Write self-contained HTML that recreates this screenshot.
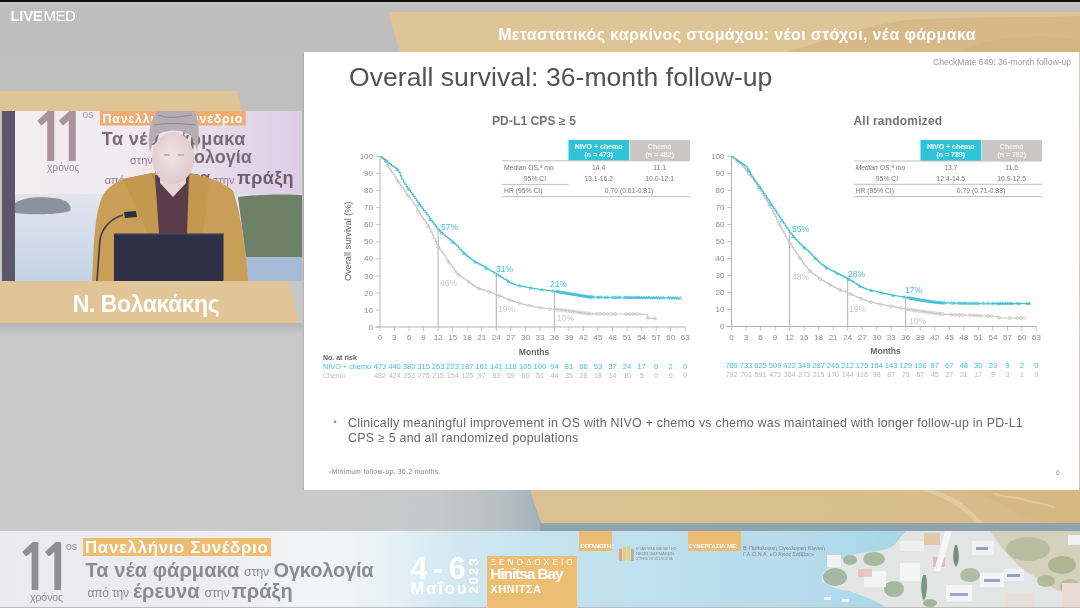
<!DOCTYPE html>
<html lang="el"><head><meta charset="utf-8">
<title>LIVEMED</title>
<style>
*{margin:0;padding:0;box-sizing:border-box}
html,body{width:1080px;height:608px;overflow:hidden;font-family:"Liberation Sans",sans-serif}
body{background:linear-gradient(#bebebe 0,#bfbfbf 100px,#c9c9c9 330px,#c9c9c9 608px)}
.a{position:absolute}
svg text{font-family:"Liberation Sans",sans-serif}
.tk{font-size:8px;fill:#8a8a8a}
.mo{font-size:8.6px;fill:#666;font-weight:bold}
.pl{font-size:8.5px}
.rc{font-size:7.6px;fill:#3fbfd2}
.rg{font-size:7px;fill:#b8b8b8}
.th{font-size:6.8px;fill:#777}
.bt{color:#8c8c8e;font-weight:bold;line-height:24px;white-space:nowrap}
.bs{color:#8c8c8e;font-size:12.5px;line-height:13px;white-space:nowrap;letter-spacing:-0.2px}
</style></head><body>
<!-- top black bar -->
<div class="a" style="left:0;top:0;width:1080px;height:2px;background:#111"></div>
<div class="a" style="left:0;top:2px;width:1080px;height:2px;background:#c6c6c6"></div>
<!-- LIVEMED logo -->
<div class="a" style="left:10.5px;top:7px;color:#fff;font-size:15px;line-height:17px;letter-spacing:-0.35px;white-space:nowrap"><b>LIVE</b><span style="font-weight:normal;letter-spacing:-0.5px;margin-left:1px">MED</span></div>

<!-- header tan band -->
<div class="a" style="left:378px;top:12px;width:702px;height:40px;background:#dfc496;clip-path:polygon(10px 0,702px 0,702px 40px,22px 40px)"></div>
<svg class="a" style="left:0;top:0" width="1080" height="608">
  <path d="M785,52 C810,46 835,36 860,30 C880,24 900,20 925,19 C960,18 1000,17 1040,17 L1080,16 L1080,52Z" fill="#d3b682" opacity="0.75"/>
  <path d="M960,52 C975,44 990,40 1010,38 L1040,36 L1080,40 L1080,52Z" fill="#cfb17c" opacity="0.5"/>
</svg>
<div class="a" style="left:397px;top:24.5px;width:680px;text-align:center;color:#fff;font-weight:bold;font-size:16px;line-height:20px;letter-spacing:0.35px">Μεταστατικός καρκίνος στομάχου: νέοι στόχοι, νέα φάρμακα</div>

<!-- left tan band above video -->
<div class="a" style="left:0;top:91px;width:242px;height:20px;background:#dfc496;clip-path:polygon(0 0,237px 0,242px 20px,0 20px)"></div>

<!-- video panel -->
<svg class="a" style="left:2px;top:111px" width="300" height="170" viewBox="0 0 300 170">
  <defs>
    <linearGradient id="vbg" x1="0" y1="0" x2="1" y2="0">
      <stop offset="0" stop-color="#f3eef0"/><stop offset="0.45" stop-color="#f1e9ef"/><stop offset="0.75" stop-color="#e6d9ea"/><stop offset="1" stop-color="#dccde6"/>
    </linearGradient>
    <linearGradient id="sea" x1="0" y1="0" x2="0" y2="1">
      <stop offset="0" stop-color="#e2e4ec"/><stop offset="0.5" stop-color="#d3dcea"/><stop offset="1" stop-color="#c3d3e6"/>
    </linearGradient>
    <radialGradient id="face" cx="0.45" cy="0.45" r="0.6">
      <stop offset="0" stop-color="#f0e4e2"/><stop offset="1" stop-color="#dcc8cc"/>
    </radialGradient>
  </defs>
  <rect width="300" height="170" fill="url(#vbg)"/>
  <rect y="83" width="300" height="87" fill="url(#sea)"/>
  <!-- islands -->
  <path d="M13,92 C22,86 40,85 58,88 C66,90 70,95 68,100 C55,104 30,104 13,102Z" fill="#8a929c"/>
  <path d="M96,101 L104,99 L108,102 L96,104Z" fill="#8e8a90"/>
  <path d="M236,86 C250,84 270,83 300,84 L300,146 C285,150 262,150 244,146Z" fill="#6f8068"/>
  <path d="M240,146 L300,146 L300,170 L240,170Z" fill="#a6bcd6"/>
  <!-- dark left strip -->
  <rect x="0" y="0" width="13" height="170" fill="#5b5669"/>
  <!-- banner text in video -->
  <text x="27.2" y="49.9" font-size="66" font-weight="bold" fill="#a8939b" letter-spacing="-18.4" style="font-family:'NanumGothic',sans-serif">11</text>
  <text x="80.5" y="6.5" font-size="10.5" fill="#ac9ea8">os</text>
  <text x="45" y="60" font-size="10.2" fill="#9a8a98">χρόνος</text>
  <rect x="97.9" y="0" width="145.8" height="14.5" fill="#f0ad72"/>
  <text x="100.5" y="11.8" font-size="12.3" font-weight="bold" fill="#fff" letter-spacing="0.85">Πανελλήνιο Συνέδριο</text>
  <text x="99.8" y="33.6" font-size="18" font-weight="bold" fill="#7a6a76" letter-spacing="0.45">Τα νέα φάρμακα</text>
  <text x="128" y="53.4" font-size="11" fill="#8f7f8e">στην</text>
  <text x="158.6" y="52.4" font-size="18" font-weight="bold" fill="#7a6a76">Ογκολογία</text>
  <text x="102.7" y="72.8" font-size="11" fill="#8f7f8e">από την</text>
  <text x="149" y="72.8" font-size="18" font-weight="bold" fill="#7a6a76">έρευνα</text>
  <text x="209.7" y="72.8" font-size="11" fill="#8f7f8e">στην</text>
  <text x="235" y="72.8" font-size="18" font-weight="bold" fill="#6e5e6c" letter-spacing="0.4">πράξη</text>
  <!-- speaker -->
  <path d="M90,170 L91,150 C92,120 95,96 101,84 C106,76 114,71 121,68 L150,62 L188,62 L207,67 C218,71 226,75 231,80 C238,100 243,130 246,170Z" fill="#c99f57"/>
  <path d="M121,68 L150,62 L158,100 L164,124 L146,124 C138,104 128,84 121,68Z" fill="#c3984f"/>
  <path d="M207,67 L188,62 L182,100 L178,124 L200,124 C204,104 206,84 207,67Z" fill="#c3984f"/>
  <path d="M150,62 L153,70 L160,110 M188,62 L186,70 L180,110" fill="none" stroke="#b08440" stroke-width="1.2"/>
  <path d="M153,64 L187,64 L185,123 L157,123Z" fill="#5a3c4b"/>
  <path d="M158,56 L184,56 L184,72 L171,86 L158,72Z" fill="#e6d5d4"/>
  <ellipse cx="171" cy="47" rx="21" ry="26" fill="url(#face)"/>
  <path d="M162,44 L168,44 M176,44 L182,44" stroke="#b8a0a4" stroke-width="1.5"/>
  <path d="M148,42 C145,20 150,4 156,0 L192,0 C197,6 198,22 195,40 C193,30 190,24 184,22 C176,18 162,19 156,24 C152,28 150,34 148,42Z" fill="#b5adb2"/>
  <path d="M156,4 C166,8 178,6 190,4 M152,14 C164,12 178,12 194,14" fill="none" stroke="#8f878d" stroke-width="1"/>
  <!-- laptop -->
  <rect x="112" y="122.8" width="109.5" height="47.2" fill="#2d3046"/>
  <rect x="112" y="122.5" width="110" height="1" fill="#4a4e66"/>
  <!-- mic -->
  <path d="M95,170 L98,128 C101,116 108,108 121,104" fill="none" stroke="#3a3d4c" stroke-width="1.6"/>
  <path d="M122,101 L134,100 L135,106 L123,107Z" fill="#2c2f3c"/>
</svg>

<!-- name band -->
<div class="a" style="left:0;top:281px;width:300px;height:42px;background:#e2c596;clip-path:polygon(0 0,289px 0,299px 42px,0 42px)"></div>
<div class="a" style="left:0;top:323px;width:302px;height:12px;background:linear-gradient(#b4b4b4,#c9c9c9)"></div>
<div class="a" style="left:0;top:290.6px;width:292px;text-align:center;color:#fff;font-weight:bold;font-size:23px;line-height:26px;letter-spacing:-0.45px">Ν. Βολακάκης</div>

<!-- lower tan band -->
<div class="a" style="left:304px;top:490px;width:240px;height:41px;background:linear-gradient(90deg,#c9c9c9 0,#c7c8c9 55%,#b4bec3 85%,#9fb0b8 100%)"></div>
<div class="a" style="left:540px;top:490px;width:540px;height:41px;background:linear-gradient(#9fb0b8,#8ea2ad)"></div>
<div class="a" style="left:530px;top:490px;width:550px;height:33px;background:linear-gradient(90deg,#dac191 0,#d9bf8d 60%,#d6b985 100%);clip-path:polygon(0 0,550px 0,550px 33px,11px 33px)"></div>
<svg class="a" style="left:900px;top:490px" width="180" height="33" viewBox="0 0 180 33">
  <path d="M20,0 C40,6 60,14 75,33 L82,33 C68,14 50,5 34,0Z" fill="#e4d2aa" opacity="0.7"/>
  <path d="M60,0 C80,4 100,10 112,20 C120,26 130,30 140,33 L180,33 L180,0Z" fill="#d2b47c" opacity="0.35"/>
  <path d="M95,4 C105,8 115,6 125,10 C135,14 145,12 155,18" fill="none" stroke="#e6d6b2" stroke-width="2" opacity="0.6"/>
</svg>

<!-- slide -->
<div class="a" style="left:301.5px;top:53px;width:2.5px;height:437px;background:linear-gradient(90deg,rgba(0,0,0,0.02),rgba(0,0,0,0.12))"></div>
<div class="a" style="left:304px;top:52px;width:774.5px;height:438px;background:#fff"></div>
<div class="a" style="left:1078.5px;top:52px;width:1.5px;height:438px;background:linear-gradient(#d9ccb2,#cfc7b8)"></div>

<div class="a" style="left:349px;top:61px;color:#525252;font-size:26.5px;line-height:32px;letter-spacing:0.06px">Overall survival: 36-month follow-up</div>
<div class="a" style="left:933px;top:56.5px;color:#9a9a9a;font-size:8.6px;line-height:10px">CheckMate 649: 36-month follow-up</div>

<div class="a" style="left:492px;top:113.7px;color:#737373;font-size:12px;line-height:14px;font-weight:bold;letter-spacing:0.1px">PD-L1 CPS ≥ 5</div>
<div class="a" style="left:853.5px;top:113.7px;color:#737373;font-size:12px;line-height:14px;font-weight:bold;letter-spacing:0.2px">All randomized</div>

<svg class="a" style="left:0;top:0" width="1080" height="608">
  <!-- left table -->
  <rect x="568.5" y="140" width="60.5" height="20.5" fill="#2ec3d7"/>
  <rect x="629.5" y="140" width="60.5" height="20.5" fill="#cac7c7"/>
  <text x="598.7" y="148.5" text-anchor="middle" font-size="7" font-weight="bold" fill="#fff">NIVO + chemo</text>
  <text x="598.7" y="157" text-anchor="middle" font-size="7" font-weight="bold" fill="#fff">(n = 473)</text>
  <text x="659.7" y="148.5" text-anchor="middle" font-size="7" font-weight="bold" fill="#f4f4f4">Chemo</text>
  <text x="659.7" y="157" text-anchor="middle" font-size="7" font-weight="bold" fill="#f4f4f4">(n = 482)</text>
  <line x1="502" y1="160.8" x2="690" y2="160.8" stroke="#b0b0b0" stroke-width="0.8"/>
  <line x1="502" y1="184.4" x2="568.5" y2="184.4" stroke="#b0b0b0" stroke-width="0.8"/>
  <line x1="502" y1="196.6" x2="690" y2="196.6" stroke="#b0b0b0" stroke-width="0.8"/>
  <text x="504" y="169.5" class="th">Median OS,<tspan font-size="4.5" dy="-2">a</tspan><tspan dy="2"> mo</tspan></text>
  <text x="535" y="180.5" text-anchor="middle" class="th">95% CI</text>
  <text x="504" y="193" class="th">HR (95% CI)</text>
  <text x="598.7" y="169.5" text-anchor="middle" class="th">14.4</text>
  <text x="659.7" y="169.5" text-anchor="middle" class="th">11.1</text>
  <text x="598.7" y="180.5" text-anchor="middle" class="th">13.1-16.2</text>
  <text x="659.7" y="180.5" text-anchor="middle" class="th">10.0-12.1</text>
  <text x="629" y="193" text-anchor="middle" class="th">0.70 (0.61-0.81)</text>

  <!-- right table -->
  <rect x="920.5" y="140" width="60.7" height="20.8" fill="#2ec3d7"/>
  <rect x="981.5" y="140" width="60.5" height="20.8" fill="#cac7c7"/>
  <text x="950.8" y="148.5" text-anchor="middle" font-size="7" font-weight="bold" fill="#fff">NIVO + chemo</text>
  <text x="950.8" y="157" text-anchor="middle" font-size="7" font-weight="bold" fill="#fff">(n = 789)</text>
  <text x="1011.7" y="148.5" text-anchor="middle" font-size="7" font-weight="bold" fill="#f4f4f4">Chemo</text>
  <text x="1011.7" y="157" text-anchor="middle" font-size="7" font-weight="bold" fill="#f4f4f4">(n = 792)</text>
  <line x1="854" y1="161" x2="1042" y2="161" stroke="#b0b0b0" stroke-width="0.8"/>
  <line x1="854" y1="184.3" x2="1042" y2="184.3" stroke="#b0b0b0" stroke-width="0.8"/>
  <line x1="854" y1="196.5" x2="1042" y2="196.5" stroke="#b0b0b0" stroke-width="0.8"/>
  <text x="855.5" y="169.5" class="th" font-style="italic">Median OS,<tspan font-size="4.5" dy="-2">a</tspan><tspan dy="2"> mo</tspan></text>
  <text x="887" y="180.5" text-anchor="middle" class="th">95% CI</text>
  <text x="855.5" y="193" class="th">HR (95% CI)</text>
  <text x="950.8" y="169.5" text-anchor="middle" class="th">13.7</text>
  <text x="1011.7" y="169.5" text-anchor="middle" class="th">11.6</text>
  <text x="950.8" y="180.5" text-anchor="middle" class="th">12.4-14.5</text>
  <text x="1011.7" y="180.5" text-anchor="middle" class="th">10.9-12.5</text>
  <text x="981" y="193" text-anchor="middle" class="th">0.79 (0.71-0.88)</text>

  <!-- y label -->
  <text transform="translate(350.5,241.3) rotate(-90)" text-anchor="middle" font-size="9.2" fill="#666">Overall survival (%)</text>
  <!-- at risk labels -->
  <text x="323" y="359.5" font-size="7" fill="#666" font-weight="bold">No. at risk</text>
  <text x="323" y="369" font-size="7.3" fill="#3fbfd2">NIVO + chemo</text>
  <text x="323" y="378.3" font-size="7" fill="#c0c0c0">Chemo</text>
<line x1="380.0" y1="156.0" x2="380.0" y2="327.0" stroke="#b4b4b4" stroke-width="1"/>
<line x1="375.0" y1="327.0" x2="685.2" y2="327.0" stroke="#b4b4b4" stroke-width="1"/>
<line x1="376.0" y1="327.0" x2="380.0" y2="327.0" stroke="#b4b4b4" stroke-width="0.8"/>
<text x="373.0" y="329.6" text-anchor="end" class="tk">0</text>
<line x1="376.0" y1="309.9" x2="380.0" y2="309.9" stroke="#b4b4b4" stroke-width="0.8"/>
<text x="373.0" y="312.6" text-anchor="end" class="tk">10</text>
<line x1="376.0" y1="292.9" x2="380.0" y2="292.9" stroke="#b4b4b4" stroke-width="0.8"/>
<text x="373.0" y="295.5" text-anchor="end" class="tk">20</text>
<line x1="376.0" y1="275.9" x2="380.0" y2="275.9" stroke="#b4b4b4" stroke-width="0.8"/>
<text x="373.0" y="278.5" text-anchor="end" class="tk">30</text>
<line x1="376.0" y1="258.8" x2="380.0" y2="258.8" stroke="#b4b4b4" stroke-width="0.8"/>
<text x="373.0" y="261.4" text-anchor="end" class="tk">40</text>
<line x1="376.0" y1="241.8" x2="380.0" y2="241.8" stroke="#b4b4b4" stroke-width="0.8"/>
<text x="373.0" y="244.3" text-anchor="end" class="tk">50</text>
<line x1="376.0" y1="224.7" x2="380.0" y2="224.7" stroke="#b4b4b4" stroke-width="0.8"/>
<text x="373.0" y="227.3" text-anchor="end" class="tk">60</text>
<line x1="376.0" y1="207.6" x2="380.0" y2="207.6" stroke="#b4b4b4" stroke-width="0.8"/>
<text x="373.0" y="210.2" text-anchor="end" class="tk">70</text>
<line x1="376.0" y1="190.6" x2="380.0" y2="190.6" stroke="#b4b4b4" stroke-width="0.8"/>
<text x="373.0" y="193.2" text-anchor="end" class="tk">80</text>
<line x1="376.0" y1="173.5" x2="380.0" y2="173.5" stroke="#b4b4b4" stroke-width="0.8"/>
<text x="373.0" y="176.1" text-anchor="end" class="tk">90</text>
<line x1="376.0" y1="156.5" x2="380.0" y2="156.5" stroke="#b4b4b4" stroke-width="0.8"/>
<text x="373.0" y="159.1" text-anchor="end" class="tk">100</text>
<line x1="380.0" y1="327.0" x2="380.0" y2="331.0" stroke="#b4b4b4" stroke-width="0.8"/>
<text x="380.0" y="340.4" text-anchor="middle" class="tk">0</text>
<line x1="394.5" y1="327.0" x2="394.5" y2="331.0" stroke="#b4b4b4" stroke-width="0.8"/>
<text x="394.5" y="340.4" text-anchor="middle" class="tk">3</text>
<line x1="409.1" y1="327.0" x2="409.1" y2="331.0" stroke="#b4b4b4" stroke-width="0.8"/>
<text x="409.1" y="340.4" text-anchor="middle" class="tk">6</text>
<line x1="423.6" y1="327.0" x2="423.6" y2="331.0" stroke="#b4b4b4" stroke-width="0.8"/>
<text x="423.6" y="340.4" text-anchor="middle" class="tk">9</text>
<line x1="438.1" y1="327.0" x2="438.1" y2="331.0" stroke="#b4b4b4" stroke-width="0.8"/>
<text x="438.1" y="340.4" text-anchor="middle" class="tk">12</text>
<line x1="452.7" y1="327.0" x2="452.7" y2="331.0" stroke="#b4b4b4" stroke-width="0.8"/>
<text x="452.7" y="340.4" text-anchor="middle" class="tk">15</text>
<line x1="467.2" y1="327.0" x2="467.2" y2="331.0" stroke="#b4b4b4" stroke-width="0.8"/>
<text x="467.2" y="340.4" text-anchor="middle" class="tk">18</text>
<line x1="481.7" y1="327.0" x2="481.7" y2="331.0" stroke="#b4b4b4" stroke-width="0.8"/>
<text x="481.7" y="340.4" text-anchor="middle" class="tk">21</text>
<line x1="496.3" y1="327.0" x2="496.3" y2="331.0" stroke="#b4b4b4" stroke-width="0.8"/>
<text x="496.3" y="340.4" text-anchor="middle" class="tk">24</text>
<line x1="510.8" y1="327.0" x2="510.8" y2="331.0" stroke="#b4b4b4" stroke-width="0.8"/>
<text x="510.8" y="340.4" text-anchor="middle" class="tk">27</text>
<line x1="525.4" y1="327.0" x2="525.4" y2="331.0" stroke="#b4b4b4" stroke-width="0.8"/>
<text x="525.4" y="340.4" text-anchor="middle" class="tk">30</text>
<line x1="539.9" y1="327.0" x2="539.9" y2="331.0" stroke="#b4b4b4" stroke-width="0.8"/>
<text x="539.9" y="340.4" text-anchor="middle" class="tk">33</text>
<line x1="554.4" y1="327.0" x2="554.4" y2="331.0" stroke="#b4b4b4" stroke-width="0.8"/>
<text x="554.4" y="340.4" text-anchor="middle" class="tk">36</text>
<line x1="569.0" y1="327.0" x2="569.0" y2="331.0" stroke="#b4b4b4" stroke-width="0.8"/>
<text x="569.0" y="340.4" text-anchor="middle" class="tk">39</text>
<line x1="583.5" y1="327.0" x2="583.5" y2="331.0" stroke="#b4b4b4" stroke-width="0.8"/>
<text x="583.5" y="340.4" text-anchor="middle" class="tk">42</text>
<line x1="598.0" y1="327.0" x2="598.0" y2="331.0" stroke="#b4b4b4" stroke-width="0.8"/>
<text x="598.0" y="340.4" text-anchor="middle" class="tk">45</text>
<line x1="612.6" y1="327.0" x2="612.6" y2="331.0" stroke="#b4b4b4" stroke-width="0.8"/>
<text x="612.6" y="340.4" text-anchor="middle" class="tk">48</text>
<line x1="627.1" y1="327.0" x2="627.1" y2="331.0" stroke="#b4b4b4" stroke-width="0.8"/>
<text x="627.1" y="340.4" text-anchor="middle" class="tk">51</text>
<line x1="641.6" y1="327.0" x2="641.6" y2="331.0" stroke="#b4b4b4" stroke-width="0.8"/>
<text x="641.6" y="340.4" text-anchor="middle" class="tk">54</text>
<line x1="656.2" y1="327.0" x2="656.2" y2="331.0" stroke="#b4b4b4" stroke-width="0.8"/>
<text x="656.2" y="340.4" text-anchor="middle" class="tk">57</text>
<line x1="670.7" y1="327.0" x2="670.7" y2="331.0" stroke="#b4b4b4" stroke-width="0.8"/>
<text x="670.7" y="340.4" text-anchor="middle" class="tk">60</text>
<line x1="685.2" y1="327.0" x2="685.2" y2="331.0" stroke="#b4b4b4" stroke-width="0.8"/>
<text x="685.2" y="340.4" text-anchor="middle" class="tk">63</text>
<text x="534.1" y="354.5" text-anchor="middle" class="mo">Months</text>
<line x1="438.1" y1="229.6" x2="438.1" y2="327.0" stroke="#a8a8a8" stroke-width="0.9"/>
<line x1="496.3" y1="274.1" x2="496.3" y2="327.0" stroke="#a8a8a8" stroke-width="0.9"/>
<line x1="554.4" y1="291.2" x2="554.4" y2="327.0" stroke="#a8a8a8" stroke-width="0.9"/>
<path d="M380.0,156.5H381.5V158.0H382.9V159.4H384.4V161.0H385.8V163.0H387.3V165.6H388.7V168.1H390.2V170.4H391.6V172.6H393.1V174.8H394.5V176.9H396.0V179.1H397.4V181.2H398.9V183.4H400.3V185.5H401.8V187.7H403.3V189.8H404.7V191.9H406.2V193.9H407.6V195.8H409.1V197.6H410.5V199.4H412.0V201.2H413.4V203.3H414.9V205.7H416.3V208.3H417.8V211.0H419.2V213.6H420.7V215.9H422.2V217.9H423.6V219.8H425.1V221.7H426.5V223.7H428.0V226.1H429.4V228.9H430.9V232.1H432.3V235.4H433.8V238.5H435.2V241.4H436.7V244.3H438.1V246.9H439.6V249.1H441.0V251.2H442.5V253.3H444.0V255.5H445.4V257.7H446.9V259.9H448.3V262.1H449.8V264.2H451.2V266.3H452.7V268.4H454.1V270.3H455.6V272.1H457.0V273.7H458.5V275.0H459.9V276.1H461.4V277.2H462.8V278.1H464.3V279.0H465.8V280.0H467.2V281.0H468.7V282.0H470.1V283.2H471.6V284.3H473.0V285.4H474.5V286.4H475.9V287.3H477.4V288.0H478.8V288.6H480.3V289.1H481.7V289.6H483.2V290.1H484.7V290.5H486.1V291.0H487.6V291.5H489.0V292.0H490.5V292.5H491.9V293.0H493.4V293.5H494.8V294.1H496.3V294.6H497.7V295.2H499.2V295.8H500.6V296.4H502.1V297.0H503.5V297.7H505.0V298.3H506.5V298.9H507.9V299.5H509.4V300.1H510.8V300.6H512.3V301.1H513.7V301.5H515.2V302.0H516.6V302.5H518.1V302.9H519.5V303.3H521.0V303.7H522.4V304.1H523.9V304.5H525.4V304.8H526.8V305.2H528.3V305.5H529.7V305.8H531.2V306.1H532.6V306.4H534.1V306.7H535.5V307.0H537.0V307.3H538.4V307.5H539.9V307.7H541.3V307.9H542.8V308.1H544.2V308.3H545.7V308.5H547.2V308.7H548.6V308.9H550.1V309.0H551.5V309.2H553.0V309.3H554.4V309.4H555.9V309.5H557.3V309.6H558.8V309.7H560.2V309.9H561.7V310.0H563.1V310.2H564.6V310.4H566.0V310.6H567.5V310.8H569.0V311.0H570.4V311.2H571.9V311.4H573.3V311.6H574.8V311.8H576.2V312.0H577.7V312.2H579.1V312.4H580.6V312.6H582.0V312.8H583.5V313.0H584.9V313.2H586.4V313.4H587.9V313.6H589.3V313.7H590.8V313.8H592.2V313.9H593.7V313.9H595.1V313.9H596.6V313.9H598.0V313.9H599.5V313.9H600.9V313.9H602.4V314.0H603.8V314.0H605.3V314.0H606.7V314.0H608.2V314.0H609.7V314.0H611.1V314.0H612.6V314.0H614.0V314.0H615.5V314.0H616.9V314.0H618.4V314.0H619.8V314.0H621.3V314.0H622.7V314.0H624.2V314.1H625.6V314.1H627.1V314.1H628.5V314.1H630.0V314.1H631.5V314.1H632.9V314.1H634.4V314.1H635.8V314.1H637.3V314.1H638.7V314.1H640.2V314.1H641.6V314.1H643.1V314.2H644.5V314.2H646.0V314.2H647.4V317.8H648.9V318.5H650.4V318.5H651.8V318.5H653.3V318.5H654.7V318.5H656.2V318.5" fill="none" stroke="#c8c8c8" stroke-width="1.1"/>
<circle cx="387.3" cy="165.6" r="1.5" fill="none" stroke="#c8c8c8" stroke-width="0.8"/>
<circle cx="397.4" cy="181.2" r="1.5" fill="none" stroke="#c8c8c8" stroke-width="0.8"/>
<circle cx="407.6" cy="195.8" r="1.5" fill="none" stroke="#c8c8c8" stroke-width="0.8"/>
<circle cx="417.8" cy="211.0" r="1.5" fill="none" stroke="#c8c8c8" stroke-width="0.8"/>
<circle cx="428.0" cy="226.1" r="1.5" fill="none" stroke="#c8c8c8" stroke-width="0.8"/>
<circle cx="438.1" cy="246.9" r="1.5" fill="none" stroke="#c8c8c8" stroke-width="0.8"/>
<circle cx="448.3" cy="262.1" r="1.5" fill="none" stroke="#c8c8c8" stroke-width="0.8"/>
<circle cx="458.5" cy="275.0" r="1.5" fill="none" stroke="#c8c8c8" stroke-width="0.8"/>
<circle cx="468.7" cy="282.0" r="1.5" fill="none" stroke="#c8c8c8" stroke-width="0.8"/>
<circle cx="478.8" cy="288.6" r="1.5" fill="none" stroke="#c8c8c8" stroke-width="0.8"/>
<circle cx="489.0" cy="292.0" r="1.5" fill="none" stroke="#c8c8c8" stroke-width="0.8"/>
<circle cx="499.2" cy="295.8" r="1.5" fill="none" stroke="#c8c8c8" stroke-width="0.8"/>
<circle cx="509.4" cy="300.1" r="1.5" fill="none" stroke="#c8c8c8" stroke-width="0.8"/>
<circle cx="519.5" cy="303.3" r="1.5" fill="none" stroke="#c8c8c8" stroke-width="0.8"/>
<circle cx="529.7" cy="305.8" r="1.5" fill="none" stroke="#c8c8c8" stroke-width="0.8"/>
<circle cx="539.9" cy="307.7" r="1.5" fill="none" stroke="#c8c8c8" stroke-width="0.8"/>
<circle cx="550.1" cy="309.0" r="1.5" fill="none" stroke="#c8c8c8" stroke-width="0.8"/>
<circle cx="556.8" cy="309.6" r="1.5" fill="none" stroke="#c8c8c8" stroke-width="0.8"/>
<circle cx="559.5" cy="309.8" r="1.5" fill="none" stroke="#c8c8c8" stroke-width="0.8"/>
<circle cx="562.2" cy="310.1" r="1.5" fill="none" stroke="#c8c8c8" stroke-width="0.8"/>
<circle cx="564.8" cy="310.4" r="1.5" fill="none" stroke="#c8c8c8" stroke-width="0.8"/>
<circle cx="567.5" cy="310.8" r="1.5" fill="none" stroke="#c8c8c8" stroke-width="0.8"/>
<circle cx="570.2" cy="311.2" r="1.5" fill="none" stroke="#c8c8c8" stroke-width="0.8"/>
<circle cx="572.8" cy="311.5" r="1.5" fill="none" stroke="#c8c8c8" stroke-width="0.8"/>
<circle cx="575.5" cy="311.9" r="1.5" fill="none" stroke="#c8c8c8" stroke-width="0.8"/>
<circle cx="578.2" cy="312.3" r="1.5" fill="none" stroke="#c8c8c8" stroke-width="0.8"/>
<circle cx="580.8" cy="312.6" r="1.5" fill="none" stroke="#c8c8c8" stroke-width="0.8"/>
<circle cx="583.5" cy="313.0" r="1.5" fill="none" stroke="#c8c8c8" stroke-width="0.8"/>
<circle cx="586.2" cy="313.4" r="1.5" fill="none" stroke="#c8c8c8" stroke-width="0.8"/>
<circle cx="588.8" cy="313.6" r="1.5" fill="none" stroke="#c8c8c8" stroke-width="0.8"/>
<circle cx="591.5" cy="313.8" r="1.5" fill="none" stroke="#c8c8c8" stroke-width="0.8"/>
<circle cx="596.8" cy="313.9" r="1.5" fill="none" stroke="#c8c8c8" stroke-width="0.8"/>
<circle cx="600.4" cy="313.9" r="1.5" fill="none" stroke="#c8c8c8" stroke-width="0.8"/>
<circle cx="604.1" cy="314.0" r="1.5" fill="none" stroke="#c8c8c8" stroke-width="0.8"/>
<circle cx="607.7" cy="314.0" r="1.5" fill="none" stroke="#c8c8c8" stroke-width="0.8"/>
<circle cx="611.3" cy="314.0" r="1.5" fill="none" stroke="#c8c8c8" stroke-width="0.8"/>
<circle cx="615.0" cy="314.0" r="1.5" fill="none" stroke="#c8c8c8" stroke-width="0.8"/>
<circle cx="625.9" cy="314.1" r="1.5" fill="none" stroke="#c8c8c8" stroke-width="0.8"/>
<circle cx="629.5" cy="314.1" r="1.5" fill="none" stroke="#c8c8c8" stroke-width="0.8"/>
<circle cx="633.2" cy="314.1" r="1.5" fill="none" stroke="#c8c8c8" stroke-width="0.8"/>
<circle cx="636.8" cy="314.1" r="1.5" fill="none" stroke="#c8c8c8" stroke-width="0.8"/>
<circle cx="647.7" cy="318.3" r="1.5" fill="none" stroke="#c8c8c8" stroke-width="0.8"/>
<circle cx="655.0" cy="318.5" r="1.5" fill="none" stroke="#c8c8c8" stroke-width="0.8"/>
<path d="M380.0,156.5H381.5V157.5H382.9V158.5H384.4V159.5H385.8V160.7H387.3V162.0H388.7V163.4H390.2V164.5H391.6V165.6H393.1V166.5H394.5V167.6H396.0V168.7H397.4V170.1H398.9V172.6H400.3V175.9H401.8V179.3H403.3V182.0H404.7V184.3H406.2V186.5H407.6V188.5H409.1V190.4H410.5V192.3H412.0V194.4H413.4V196.4H414.9V198.5H416.3V200.7H417.8V202.7H419.2V204.8H420.7V206.8H422.2V208.7H423.6V210.5H425.1V212.4H426.5V214.4H428.0V216.3H429.4V218.2H430.9V220.2H432.3V222.1H433.8V224.1H435.2V226.1H436.7V228.0H438.1V229.6H439.6V231.1H441.0V232.5H442.5V233.8H444.0V235.1H445.4V236.3H446.9V237.5H448.3V238.7H449.8V239.9H451.2V241.0H452.7V242.1H454.1V243.4H455.6V244.7H457.0V246.2H458.5V247.9H459.9V249.5H461.4V251.0H462.8V252.4H464.3V253.8H465.8V255.1H467.2V256.4H468.7V257.6H470.1V258.8H471.6V259.8H473.0V260.8H474.5V261.7H475.9V262.6H477.4V263.3H478.8V264.1H480.3V264.8H481.7V265.6H483.2V266.4H484.7V267.3H486.1V268.1H487.6V269.0H489.0V269.8H490.5V270.7H491.9V271.5H493.4V272.4H494.8V273.3H496.3V274.1H497.7V275.0H499.2V275.9H500.6V276.9H502.1V277.8H503.5V278.7H505.0V279.5H506.5V280.4H507.9V281.3H509.4V282.2H510.8V283.1H512.3V283.8H513.7V284.4H515.2V284.8H516.6V285.2H518.1V285.5H519.5V285.8H521.0V286.1H522.4V286.4H523.9V286.7H525.4V286.9H526.8V287.2H528.3V287.5H529.7V287.8H531.2V288.0H532.6V288.3H534.1V288.6H535.5V288.8H537.0V289.1H538.4V289.3H539.9V289.5H541.3V289.7H542.8V289.9H544.2V290.0H545.7V290.2H547.2V290.4H548.6V290.5H550.1V290.7H551.5V290.8H553.0V291.0H554.4V291.2H555.9V291.4H557.3V291.6H558.8V291.8H560.2V292.0H561.7V292.3H563.1V292.5H564.6V292.7H566.0V293.0H567.5V293.2H569.0V293.5H570.4V293.7H571.9V294.0H573.3V294.2H574.8V294.4H576.2V294.7H577.7V294.9H579.1V295.2H580.6V295.4H582.0V295.7H583.5V295.9H584.9V296.2H586.4V296.4H587.9V296.6H589.3V296.7H590.8V296.9H592.2V297.0H593.7V297.0H595.1V297.0H596.6V297.1H598.0V297.1H599.5V297.1H600.9V297.1H602.4V297.2H603.8V297.2H605.3V297.2H606.7V297.2H608.2V297.2H609.7V297.2H611.1V297.2H612.6V297.3H614.0V297.3H615.5V297.3H616.9V297.3H618.4V297.3H619.8V297.3H621.3V297.3H622.7V297.3H624.2V297.3H625.6V297.4H627.1V297.4H628.5V297.4H630.0V297.4H631.5V297.4H632.9V297.4H634.4V297.4H635.8V297.4H637.3V297.4H638.7V297.4H640.2V297.5H641.6V297.5H643.1V297.5H644.5V297.5H646.0V297.5H647.4V297.5H648.9V297.5H650.4V297.5H651.8V297.6H653.3V297.6H654.7V297.6H656.2V297.6H657.6V297.6H659.1V297.7H660.5V297.7H662.0V297.7H663.4V297.7H664.9V297.8H666.3V297.8H667.8V297.8H669.2V297.8H670.7V297.9H672.2V297.9H673.6V297.9H675.1V297.9H676.5V298.0H678.0V298.0H679.4V298.0" fill="none" stroke="#3fbfd2" stroke-width="1.1"/>
<path d="M384.3,161.8L385.8,159.2L387.3,161.8Z" fill="none" stroke="#3fbfd2" stroke-width="0.7"/>
<path d="M395.5,170.7L397.0,168.1L398.5,170.7Z" fill="none" stroke="#3fbfd2" stroke-width="0.7"/>
<path d="M406.6,190.2L408.1,187.6L409.6,190.2Z" fill="none" stroke="#3fbfd2" stroke-width="0.7"/>
<path d="M417.7,205.9L419.2,203.3L420.7,205.9Z" fill="none" stroke="#3fbfd2" stroke-width="0.7"/>
<path d="M428.9,220.6L430.4,218.0L431.9,220.6Z" fill="none" stroke="#3fbfd2" stroke-width="0.7"/>
<path d="M440.0,234.1L441.5,231.5L443.0,234.1Z" fill="none" stroke="#3fbfd2" stroke-width="0.7"/>
<path d="M451.2,243.2L452.7,240.6L454.2,243.2Z" fill="none" stroke="#3fbfd2" stroke-width="0.7"/>
<path d="M462.3,254.4L463.8,251.8L465.3,254.4Z" fill="none" stroke="#3fbfd2" stroke-width="0.7"/>
<path d="M473.5,263.1L475.0,260.5L476.5,263.1Z" fill="none" stroke="#3fbfd2" stroke-width="0.7"/>
<path d="M484.6,269.2L486.1,266.6L487.6,269.2Z" fill="none" stroke="#3fbfd2" stroke-width="0.7"/>
<path d="M495.7,275.8L497.2,273.2L498.7,275.8Z" fill="none" stroke="#3fbfd2" stroke-width="0.7"/>
<path d="M506.9,282.7L508.4,280.1L509.9,282.7Z" fill="none" stroke="#3fbfd2" stroke-width="0.7"/>
<path d="M518.0,286.9L519.5,284.3L521.0,286.9Z" fill="none" stroke="#3fbfd2" stroke-width="0.7"/>
<path d="M529.2,289.1L530.7,286.5L532.2,289.1Z" fill="none" stroke="#3fbfd2" stroke-width="0.7"/>
<path d="M540.3,290.8L541.8,288.2L543.3,290.8Z" fill="none" stroke="#3fbfd2" stroke-width="0.7"/>
<path d="M551.5,292.1L553.0,289.5L554.5,292.1Z" fill="none" stroke="#3fbfd2" stroke-width="0.7"/>
<path d="M555.3,292.6L556.8,290.0L558.3,292.6Z" fill="none" stroke="#3fbfd2" stroke-width="0.7"/>
<path d="M556.8,292.8L558.3,290.2L559.8,292.8Z" fill="none" stroke="#3fbfd2" stroke-width="0.7"/>
<path d="M558.2,293.1L559.7,290.5L561.2,293.1Z" fill="none" stroke="#3fbfd2" stroke-width="0.7"/>
<path d="M559.7,293.3L561.2,290.7L562.7,293.3Z" fill="none" stroke="#3fbfd2" stroke-width="0.7"/>
<path d="M561.2,293.5L562.7,290.9L564.2,293.5Z" fill="none" stroke="#3fbfd2" stroke-width="0.7"/>
<path d="M562.6,293.8L564.1,291.2L565.6,293.8Z" fill="none" stroke="#3fbfd2" stroke-width="0.7"/>
<path d="M564.1,294.0L565.6,291.4L567.1,294.0Z" fill="none" stroke="#3fbfd2" stroke-width="0.7"/>
<path d="M565.5,294.2L567.0,291.6L568.5,294.2Z" fill="none" stroke="#3fbfd2" stroke-width="0.7"/>
<path d="M567.0,294.5L568.5,291.9L570.0,294.5Z" fill="none" stroke="#3fbfd2" stroke-width="0.7"/>
<path d="M568.4,294.7L569.9,292.1L571.4,294.7Z" fill="none" stroke="#3fbfd2" stroke-width="0.7"/>
<path d="M569.9,295.0L571.4,292.4L572.9,295.0Z" fill="none" stroke="#3fbfd2" stroke-width="0.7"/>
<path d="M571.3,295.2L572.8,292.6L574.3,295.2Z" fill="none" stroke="#3fbfd2" stroke-width="0.7"/>
<path d="M572.8,295.4L574.3,292.8L575.8,295.4Z" fill="none" stroke="#3fbfd2" stroke-width="0.7"/>
<path d="M574.2,295.7L575.7,293.1L577.2,295.7Z" fill="none" stroke="#3fbfd2" stroke-width="0.7"/>
<path d="M575.7,295.9L577.2,293.3L578.7,295.9Z" fill="none" stroke="#3fbfd2" stroke-width="0.7"/>
<path d="M577.1,296.2L578.6,293.6L580.1,296.2Z" fill="none" stroke="#3fbfd2" stroke-width="0.7"/>
<path d="M578.6,296.4L580.1,293.8L581.6,296.4Z" fill="none" stroke="#3fbfd2" stroke-width="0.7"/>
<path d="M580.1,296.7L581.6,294.1L583.1,296.7Z" fill="none" stroke="#3fbfd2" stroke-width="0.7"/>
<path d="M581.5,297.0L583.0,294.4L584.5,297.0Z" fill="none" stroke="#3fbfd2" stroke-width="0.7"/>
<path d="M583.0,297.2L584.5,294.6L586.0,297.2Z" fill="none" stroke="#3fbfd2" stroke-width="0.7"/>
<path d="M584.4,297.4L585.9,294.8L587.4,297.4Z" fill="none" stroke="#3fbfd2" stroke-width="0.7"/>
<path d="M585.9,297.6L587.4,295.0L588.9,297.6Z" fill="none" stroke="#3fbfd2" stroke-width="0.7"/>
<path d="M587.3,297.8L588.8,295.2L590.3,297.8Z" fill="none" stroke="#3fbfd2" stroke-width="0.7"/>
<path d="M588.8,297.9L590.3,295.3L591.8,297.9Z" fill="none" stroke="#3fbfd2" stroke-width="0.7"/>
<path d="M590.2,298.0L591.7,295.4L593.2,298.0Z" fill="none" stroke="#3fbfd2" stroke-width="0.7"/>
<path d="M591.7,298.1L593.2,295.5L594.7,298.1Z" fill="none" stroke="#3fbfd2" stroke-width="0.7"/>
<path d="M596.5,298.2L598.0,295.6L599.5,298.2Z" fill="none" stroke="#3fbfd2" stroke-width="0.7"/>
<path d="M598.9,298.2L600.4,295.6L601.9,298.2Z" fill="none" stroke="#3fbfd2" stroke-width="0.7"/>
<path d="M603.8,298.3L605.3,295.7L606.8,298.3Z" fill="none" stroke="#3fbfd2" stroke-width="0.7"/>
<path d="M606.2,298.3L607.7,295.7L609.2,298.3Z" fill="none" stroke="#3fbfd2" stroke-width="0.7"/>
<path d="M611.1,298.4L612.6,295.8L614.1,298.4Z" fill="none" stroke="#3fbfd2" stroke-width="0.7"/>
<path d="M613.5,298.4L615.0,295.8L616.5,298.4Z" fill="none" stroke="#3fbfd2" stroke-width="0.7"/>
<path d="M615.9,298.4L617.4,295.8L618.9,298.4Z" fill="none" stroke="#3fbfd2" stroke-width="0.7"/>
<path d="M618.3,298.4L619.8,295.8L621.3,298.4Z" fill="none" stroke="#3fbfd2" stroke-width="0.7"/>
<path d="M623.2,298.5L624.7,295.9L626.2,298.5Z" fill="none" stroke="#3fbfd2" stroke-width="0.7"/>
<path d="M625.6,298.5L627.1,295.9L628.6,298.5Z" fill="none" stroke="#3fbfd2" stroke-width="0.7"/>
<path d="M628.0,298.5L629.5,295.9L631.0,298.5Z" fill="none" stroke="#3fbfd2" stroke-width="0.7"/>
<path d="M630.4,298.5L631.9,295.9L633.4,298.5Z" fill="none" stroke="#3fbfd2" stroke-width="0.7"/>
<path d="M632.9,298.5L634.4,295.9L635.9,298.5Z" fill="none" stroke="#3fbfd2" stroke-width="0.7"/>
<path d="M635.3,298.5L636.8,295.9L638.3,298.5Z" fill="none" stroke="#3fbfd2" stroke-width="0.7"/>
<path d="M637.7,298.5L639.2,295.9L640.7,298.5Z" fill="none" stroke="#3fbfd2" stroke-width="0.7"/>
<path d="M640.1,298.6L641.6,296.0L643.1,298.6Z" fill="none" stroke="#3fbfd2" stroke-width="0.7"/>
<path d="M642.6,298.6L644.1,296.0L645.6,298.6Z" fill="none" stroke="#3fbfd2" stroke-width="0.7"/>
<path d="M645.0,298.6L646.5,296.0L648.0,298.6Z" fill="none" stroke="#3fbfd2" stroke-width="0.7"/>
<path d="M647.4,298.6L648.9,296.0L650.4,298.6Z" fill="none" stroke="#3fbfd2" stroke-width="0.7"/>
<path d="M649.8,298.7L651.3,296.1L652.8,298.7Z" fill="none" stroke="#3fbfd2" stroke-width="0.7"/>
<path d="M652.2,298.7L653.7,296.1L655.2,298.7Z" fill="none" stroke="#3fbfd2" stroke-width="0.7"/>
<path d="M654.7,298.7L656.2,296.1L657.7,298.7Z" fill="none" stroke="#3fbfd2" stroke-width="0.7"/>
<path d="M657.1,298.8L658.6,296.2L660.1,298.8Z" fill="none" stroke="#3fbfd2" stroke-width="0.7"/>
<path d="M659.5,298.8L661.0,296.2L662.5,298.8Z" fill="none" stroke="#3fbfd2" stroke-width="0.7"/>
<path d="M661.9,298.8L663.4,296.2L664.9,298.8Z" fill="none" stroke="#3fbfd2" stroke-width="0.7"/>
<path d="M666.8,298.9L668.3,296.3L669.8,298.9Z" fill="none" stroke="#3fbfd2" stroke-width="0.7"/>
<path d="M669.2,299.0L670.7,296.4L672.2,299.0Z" fill="none" stroke="#3fbfd2" stroke-width="0.7"/>
<path d="M671.6,299.0L673.1,296.4L674.6,299.0Z" fill="none" stroke="#3fbfd2" stroke-width="0.7"/>
<path d="M674.0,299.0L675.5,296.4L677.0,299.0Z" fill="none" stroke="#3fbfd2" stroke-width="0.7"/>
<path d="M676.5,299.1L678.0,296.5L679.5,299.1Z" fill="none" stroke="#3fbfd2" stroke-width="0.7"/>
<path d="M678.9,299.1L680.4,296.5L681.9,299.1Z" fill="none" stroke="#3fbfd2" stroke-width="0.7"/>
<text x="441" y="230" class="pl" fill="#3fbfd2">57%</text>
<text x="440" y="286" class="pl" fill="#c8c8c8">46%</text>
<text x="496" y="272" class="pl" fill="#3fbfd2">31%</text>
<text x="498" y="312" class="pl" fill="#c8c8c8">19%</text>
<text x="550" y="287" class="pl" fill="#3fbfd2">21%</text>
<text x="557" y="321" class="pl" fill="#c8c8c8">10%</text>
<text x="380.0" y="368.6" text-anchor="middle" class="rc">473</text>
<text x="380.0" y="377.8" text-anchor="middle" class="rg">482</text>
<text x="394.5" y="368.6" text-anchor="middle" class="rc">440</text>
<text x="394.5" y="377.8" text-anchor="middle" class="rg">424</text>
<text x="409.1" y="368.6" text-anchor="middle" class="rc">380</text>
<text x="409.1" y="377.8" text-anchor="middle" class="rg">353</text>
<text x="423.6" y="368.6" text-anchor="middle" class="rc">315</text>
<text x="423.6" y="377.8" text-anchor="middle" class="rg">275</text>
<text x="438.1" y="368.6" text-anchor="middle" class="rc">263</text>
<text x="438.1" y="377.8" text-anchor="middle" class="rg">215</text>
<text x="452.7" y="368.6" text-anchor="middle" class="rc">223</text>
<text x="452.7" y="377.8" text-anchor="middle" class="rg">154</text>
<text x="467.2" y="368.6" text-anchor="middle" class="rc">187</text>
<text x="467.2" y="377.8" text-anchor="middle" class="rg">125</text>
<text x="481.7" y="368.6" text-anchor="middle" class="rc">161</text>
<text x="481.7" y="377.8" text-anchor="middle" class="rg">97</text>
<text x="496.3" y="368.6" text-anchor="middle" class="rc">141</text>
<text x="496.3" y="377.8" text-anchor="middle" class="rg">83</text>
<text x="510.8" y="368.6" text-anchor="middle" class="rc">118</text>
<text x="510.8" y="377.8" text-anchor="middle" class="rg">69</text>
<text x="525.4" y="368.6" text-anchor="middle" class="rc">105</text>
<text x="525.4" y="377.8" text-anchor="middle" class="rg">60</text>
<text x="539.9" y="368.6" text-anchor="middle" class="rc">100</text>
<text x="539.9" y="377.8" text-anchor="middle" class="rg">51</text>
<text x="554.4" y="368.6" text-anchor="middle" class="rc">94</text>
<text x="554.4" y="377.8" text-anchor="middle" class="rg">44</text>
<text x="569.0" y="368.6" text-anchor="middle" class="rc">81</text>
<text x="569.0" y="377.8" text-anchor="middle" class="rg">35</text>
<text x="583.5" y="368.6" text-anchor="middle" class="rc">66</text>
<text x="583.5" y="377.8" text-anchor="middle" class="rg">28</text>
<text x="598.0" y="368.6" text-anchor="middle" class="rc">53</text>
<text x="598.0" y="377.8" text-anchor="middle" class="rg">18</text>
<text x="612.6" y="368.6" text-anchor="middle" class="rc">37</text>
<text x="612.6" y="377.8" text-anchor="middle" class="rg">14</text>
<text x="627.1" y="368.6" text-anchor="middle" class="rc">24</text>
<text x="627.1" y="377.8" text-anchor="middle" class="rg">10</text>
<text x="641.6" y="368.6" text-anchor="middle" class="rc">17</text>
<text x="641.6" y="377.8" text-anchor="middle" class="rg">5</text>
<text x="656.2" y="368.6" text-anchor="middle" class="rc">6</text>
<text x="656.2" y="377.8" text-anchor="middle" class="rg">0</text>
<text x="670.7" y="368.6" text-anchor="middle" class="rc">2</text>
<text x="670.7" y="377.8" text-anchor="middle" class="rg">0</text>
<text x="685.2" y="368.6" text-anchor="middle" class="rc">0</text>
<text x="685.2" y="377.8" text-anchor="middle" class="rg">0</text>
<line x1="731.5" y1="156.0" x2="731.5" y2="326.5" stroke="#b4b4b4" stroke-width="1"/>
<line x1="726.5" y1="326.5" x2="1036.4" y2="326.5" stroke="#b4b4b4" stroke-width="1"/>
<line x1="727.5" y1="326.5" x2="731.5" y2="326.5" stroke="#b4b4b4" stroke-width="0.8"/>
<text x="724.5" y="329.1" text-anchor="end" class="tk">0</text>
<line x1="727.5" y1="309.5" x2="731.5" y2="309.5" stroke="#b4b4b4" stroke-width="0.8"/>
<text x="724.5" y="312.1" text-anchor="end" class="tk">10</text>
<line x1="727.5" y1="292.5" x2="731.5" y2="292.5" stroke="#b4b4b4" stroke-width="0.8"/>
<text x="724.5" y="295.1" text-anchor="end" class="tk">20</text>
<line x1="727.5" y1="275.5" x2="731.5" y2="275.5" stroke="#b4b4b4" stroke-width="0.8"/>
<text x="724.5" y="278.1" text-anchor="end" class="tk">30</text>
<line x1="727.5" y1="258.5" x2="731.5" y2="258.5" stroke="#b4b4b4" stroke-width="0.8"/>
<text x="724.5" y="261.1" text-anchor="end" class="tk">40</text>
<line x1="727.5" y1="241.5" x2="731.5" y2="241.5" stroke="#b4b4b4" stroke-width="0.8"/>
<text x="724.5" y="244.1" text-anchor="end" class="tk">50</text>
<line x1="727.5" y1="224.5" x2="731.5" y2="224.5" stroke="#b4b4b4" stroke-width="0.8"/>
<text x="724.5" y="227.1" text-anchor="end" class="tk">60</text>
<line x1="727.5" y1="207.5" x2="731.5" y2="207.5" stroke="#b4b4b4" stroke-width="0.8"/>
<text x="724.5" y="210.1" text-anchor="end" class="tk">70</text>
<line x1="727.5" y1="190.5" x2="731.5" y2="190.5" stroke="#b4b4b4" stroke-width="0.8"/>
<text x="724.5" y="193.1" text-anchor="end" class="tk">80</text>
<line x1="727.5" y1="173.5" x2="731.5" y2="173.5" stroke="#b4b4b4" stroke-width="0.8"/>
<text x="724.5" y="176.1" text-anchor="end" class="tk">90</text>
<line x1="727.5" y1="156.5" x2="731.5" y2="156.5" stroke="#b4b4b4" stroke-width="0.8"/>
<text x="724.5" y="159.1" text-anchor="end" class="tk">100</text>
<line x1="731.5" y1="326.5" x2="731.5" y2="330.5" stroke="#b4b4b4" stroke-width="0.8"/>
<text x="731.5" y="339.9" text-anchor="middle" class="tk">0</text>
<line x1="746.0" y1="326.5" x2="746.0" y2="330.5" stroke="#b4b4b4" stroke-width="0.8"/>
<text x="746.0" y="339.9" text-anchor="middle" class="tk">3</text>
<line x1="760.5" y1="326.5" x2="760.5" y2="330.5" stroke="#b4b4b4" stroke-width="0.8"/>
<text x="760.5" y="339.9" text-anchor="middle" class="tk">6</text>
<line x1="775.1" y1="326.5" x2="775.1" y2="330.5" stroke="#b4b4b4" stroke-width="0.8"/>
<text x="775.1" y="339.9" text-anchor="middle" class="tk">9</text>
<line x1="789.6" y1="326.5" x2="789.6" y2="330.5" stroke="#b4b4b4" stroke-width="0.8"/>
<text x="789.6" y="339.9" text-anchor="middle" class="tk">12</text>
<line x1="804.1" y1="326.5" x2="804.1" y2="330.5" stroke="#b4b4b4" stroke-width="0.8"/>
<text x="804.1" y="339.9" text-anchor="middle" class="tk">15</text>
<line x1="818.6" y1="326.5" x2="818.6" y2="330.5" stroke="#b4b4b4" stroke-width="0.8"/>
<text x="818.6" y="339.9" text-anchor="middle" class="tk">18</text>
<line x1="833.1" y1="326.5" x2="833.1" y2="330.5" stroke="#b4b4b4" stroke-width="0.8"/>
<text x="833.1" y="339.9" text-anchor="middle" class="tk">21</text>
<line x1="847.7" y1="326.5" x2="847.7" y2="330.5" stroke="#b4b4b4" stroke-width="0.8"/>
<text x="847.7" y="339.9" text-anchor="middle" class="tk">24</text>
<line x1="862.2" y1="326.5" x2="862.2" y2="330.5" stroke="#b4b4b4" stroke-width="0.8"/>
<text x="862.2" y="339.9" text-anchor="middle" class="tk">27</text>
<line x1="876.7" y1="326.5" x2="876.7" y2="330.5" stroke="#b4b4b4" stroke-width="0.8"/>
<text x="876.7" y="339.9" text-anchor="middle" class="tk">30</text>
<line x1="891.2" y1="326.5" x2="891.2" y2="330.5" stroke="#b4b4b4" stroke-width="0.8"/>
<text x="891.2" y="339.9" text-anchor="middle" class="tk">33</text>
<line x1="905.7" y1="326.5" x2="905.7" y2="330.5" stroke="#b4b4b4" stroke-width="0.8"/>
<text x="905.7" y="339.9" text-anchor="middle" class="tk">36</text>
<line x1="920.3" y1="326.5" x2="920.3" y2="330.5" stroke="#b4b4b4" stroke-width="0.8"/>
<text x="920.3" y="339.9" text-anchor="middle" class="tk">39</text>
<line x1="934.8" y1="326.5" x2="934.8" y2="330.5" stroke="#b4b4b4" stroke-width="0.8"/>
<text x="934.8" y="339.9" text-anchor="middle" class="tk">42</text>
<line x1="949.3" y1="326.5" x2="949.3" y2="330.5" stroke="#b4b4b4" stroke-width="0.8"/>
<text x="949.3" y="339.9" text-anchor="middle" class="tk">45</text>
<line x1="963.8" y1="326.5" x2="963.8" y2="330.5" stroke="#b4b4b4" stroke-width="0.8"/>
<text x="963.8" y="339.9" text-anchor="middle" class="tk">48</text>
<line x1="978.3" y1="326.5" x2="978.3" y2="330.5" stroke="#b4b4b4" stroke-width="0.8"/>
<text x="978.3" y="339.9" text-anchor="middle" class="tk">51</text>
<line x1="992.9" y1="326.5" x2="992.9" y2="330.5" stroke="#b4b4b4" stroke-width="0.8"/>
<text x="992.9" y="339.9" text-anchor="middle" class="tk">54</text>
<line x1="1007.4" y1="326.5" x2="1007.4" y2="330.5" stroke="#b4b4b4" stroke-width="0.8"/>
<text x="1007.4" y="339.9" text-anchor="middle" class="tk">57</text>
<line x1="1021.9" y1="326.5" x2="1021.9" y2="330.5" stroke="#b4b4b4" stroke-width="0.8"/>
<text x="1021.9" y="339.9" text-anchor="middle" class="tk">60</text>
<line x1="1036.4" y1="326.5" x2="1036.4" y2="330.5" stroke="#b4b4b4" stroke-width="0.8"/>
<text x="1036.4" y="339.9" text-anchor="middle" class="tk">63</text>
<text x="885.5" y="354.0" text-anchor="middle" class="mo">Months</text>
<line x1="789.6" y1="232.2" x2="789.6" y2="326.5" stroke="#a8a8a8" stroke-width="0.9"/>
<line x1="847.7" y1="278.9" x2="847.7" y2="326.5" stroke="#a8a8a8" stroke-width="0.9"/>
<line x1="905.7" y1="297.3" x2="905.7" y2="326.5" stroke="#a8a8a8" stroke-width="0.9"/>
<path d="M731.5,156.5H733.0V157.6H734.4V158.8H735.9V159.9H737.3V161.2H738.8V162.5H740.2V164.0H741.7V165.6H743.1V167.2H744.6V168.9H746.0V170.5H747.5V172.3H748.9V174.0H750.4V175.9H751.8V177.9H753.3V180.0H754.7V182.1H756.2V184.4H757.6V186.7H759.1V189.0H760.5V191.3H762.0V193.6H763.4V195.9H764.9V198.3H766.3V200.8H767.8V203.2H769.3V205.8H770.7V208.4H772.2V211.1H773.6V213.9H775.1V216.7H776.5V219.6H778.0V222.4H779.4V225.3H780.9V228.1H782.3V230.9H783.8V233.7H785.2V236.4H786.7V238.9H788.1V241.3H789.6V243.5H791.0V245.7H792.5V247.9H793.9V250.0H795.4V252.1H796.8V254.2H798.3V256.3H799.7V258.3H801.2V260.5H802.6V262.6H804.1V264.7H805.6V266.7H807.0V268.5H808.5V270.0H809.9V271.4H811.4V272.7H812.8V273.9H814.3V275.0H815.7V276.0H817.2V277.0H818.6V278.1H820.1V279.0H821.5V280.0H823.0V280.9H824.4V281.8H825.9V282.6H827.3V283.4H828.8V284.3H830.2V285.1H831.7V285.9H833.1V286.7H834.6V287.4H836.0V288.2H837.5V288.9H838.9V289.5H840.4V290.1H841.9V290.7H843.3V291.3H844.8V291.8H846.2V292.4H847.7V293.0H849.1V293.6H850.6V294.2H852.0V294.9H853.5V295.5H854.9V296.2H856.4V296.9H857.8V297.5H859.3V298.2H860.7V298.8H862.2V299.3H863.6V299.8H865.1V300.3H866.5V300.8H868.0V301.2H869.4V301.6H870.9V302.1H872.3V302.5H873.8V302.8H875.2V303.2H876.7V303.6H878.2V303.9H879.6V304.2H881.1V304.5H882.5V304.7H884.0V305.0H885.4V305.2H886.9V305.5H888.3V305.7H889.8V306.0H891.2V306.3H892.7V306.5H894.1V306.8H895.6V307.1H897.0V307.4H898.5V307.7H899.9V308.0H901.4V308.2H902.8V308.5H904.3V308.8H905.7V309.0H907.2V309.2H908.6V309.4H910.1V309.6H911.5V309.8H913.0V310.1H914.5V310.3H915.9V310.5H917.4V310.7H918.8V311.0H920.3V311.2H921.7V311.4H923.2V311.6H924.6V311.8H926.1V312.0H927.5V312.2H929.0V312.4H930.4V312.6H931.9V312.8H933.3V313.0H934.8V313.2H936.2V313.4H937.7V313.5H939.1V313.7H940.6V313.9H942.0V314.0H943.5V314.1H944.9V314.2H946.4V314.3H947.8V314.4H949.3V314.5H950.8V314.6H952.2V314.6H953.7V314.7H955.1V314.8H956.6V314.8H958.0V314.9H959.5V314.9H960.9V315.0H962.4V315.0H963.8V315.1H965.3V315.1H966.7V315.2H968.2V315.2H969.6V315.3H971.1V315.3H972.5V315.4H974.0V315.5H975.4V315.5H976.9V315.6H978.3V315.6H979.8V315.7H981.2V315.7H982.7V315.7H984.1V315.8H985.6V315.8H987.1V315.9H988.5V316.0H990.0V316.0H991.4V316.1H992.9V316.2H994.3V316.3H995.8V316.5H997.2V316.9H998.7V317.6H1000.1V318.0H1001.6V318.0H1003.0V318.0H1004.5V318.0H1005.9V318.0H1007.4V318.0H1008.8V318.0H1010.3V318.0H1011.7V318.0H1013.2V318.0H1014.6V318.0H1016.1V318.0H1017.5V318.0H1019.0V318.0H1020.4V318.0H1021.9V318.0H1023.4V318.0" fill="none" stroke="#c8c8c8" stroke-width="1.1"/>
<circle cx="738.8" cy="162.5" r="1.5" fill="none" stroke="#c8c8c8" stroke-width="0.8"/>
<circle cx="748.9" cy="174.0" r="1.5" fill="none" stroke="#c8c8c8" stroke-width="0.8"/>
<circle cx="759.1" cy="189.0" r="1.5" fill="none" stroke="#c8c8c8" stroke-width="0.8"/>
<circle cx="769.3" cy="205.8" r="1.5" fill="none" stroke="#c8c8c8" stroke-width="0.8"/>
<circle cx="779.4" cy="225.3" r="1.5" fill="none" stroke="#c8c8c8" stroke-width="0.8"/>
<circle cx="789.6" cy="243.5" r="1.5" fill="none" stroke="#c8c8c8" stroke-width="0.8"/>
<circle cx="799.7" cy="258.3" r="1.5" fill="none" stroke="#c8c8c8" stroke-width="0.8"/>
<circle cx="809.9" cy="271.4" r="1.5" fill="none" stroke="#c8c8c8" stroke-width="0.8"/>
<circle cx="820.1" cy="279.0" r="1.5" fill="none" stroke="#c8c8c8" stroke-width="0.8"/>
<circle cx="830.2" cy="285.1" r="1.5" fill="none" stroke="#c8c8c8" stroke-width="0.8"/>
<circle cx="840.4" cy="290.1" r="1.5" fill="none" stroke="#c8c8c8" stroke-width="0.8"/>
<circle cx="850.6" cy="294.2" r="1.5" fill="none" stroke="#c8c8c8" stroke-width="0.8"/>
<circle cx="860.7" cy="298.8" r="1.5" fill="none" stroke="#c8c8c8" stroke-width="0.8"/>
<circle cx="870.9" cy="302.1" r="1.5" fill="none" stroke="#c8c8c8" stroke-width="0.8"/>
<circle cx="881.1" cy="304.5" r="1.5" fill="none" stroke="#c8c8c8" stroke-width="0.8"/>
<circle cx="891.2" cy="306.3" r="1.5" fill="none" stroke="#c8c8c8" stroke-width="0.8"/>
<circle cx="901.4" cy="308.2" r="1.5" fill="none" stroke="#c8c8c8" stroke-width="0.8"/>
<circle cx="908.2" cy="309.3" r="1.5" fill="none" stroke="#c8c8c8" stroke-width="0.8"/>
<circle cx="910.8" cy="309.7" r="1.5" fill="none" stroke="#c8c8c8" stroke-width="0.8"/>
<circle cx="913.5" cy="310.1" r="1.5" fill="none" stroke="#c8c8c8" stroke-width="0.8"/>
<circle cx="916.1" cy="310.6" r="1.5" fill="none" stroke="#c8c8c8" stroke-width="0.8"/>
<circle cx="918.8" cy="311.0" r="1.5" fill="none" stroke="#c8c8c8" stroke-width="0.8"/>
<circle cx="921.5" cy="311.4" r="1.5" fill="none" stroke="#c8c8c8" stroke-width="0.8"/>
<circle cx="924.1" cy="311.7" r="1.5" fill="none" stroke="#c8c8c8" stroke-width="0.8"/>
<circle cx="926.8" cy="312.1" r="1.5" fill="none" stroke="#c8c8c8" stroke-width="0.8"/>
<circle cx="929.5" cy="312.5" r="1.5" fill="none" stroke="#c8c8c8" stroke-width="0.8"/>
<circle cx="932.1" cy="312.8" r="1.5" fill="none" stroke="#c8c8c8" stroke-width="0.8"/>
<circle cx="934.8" cy="313.2" r="1.5" fill="none" stroke="#c8c8c8" stroke-width="0.8"/>
<circle cx="937.4" cy="313.5" r="1.5" fill="none" stroke="#c8c8c8" stroke-width="0.8"/>
<circle cx="940.1" cy="313.8" r="1.5" fill="none" stroke="#c8c8c8" stroke-width="0.8"/>
<circle cx="942.8" cy="314.1" r="1.5" fill="none" stroke="#c8c8c8" stroke-width="0.8"/>
<circle cx="951.7" cy="314.6" r="1.5" fill="none" stroke="#c8c8c8" stroke-width="0.8"/>
<circle cx="955.4" cy="314.8" r="1.5" fill="none" stroke="#c8c8c8" stroke-width="0.8"/>
<circle cx="959.0" cy="314.9" r="1.5" fill="none" stroke="#c8c8c8" stroke-width="0.8"/>
<circle cx="962.6" cy="315.0" r="1.5" fill="none" stroke="#c8c8c8" stroke-width="0.8"/>
<circle cx="969.9" cy="315.3" r="1.5" fill="none" stroke="#c8c8c8" stroke-width="0.8"/>
<circle cx="973.5" cy="315.4" r="1.5" fill="none" stroke="#c8c8c8" stroke-width="0.8"/>
<circle cx="977.1" cy="315.6" r="1.5" fill="none" stroke="#c8c8c8" stroke-width="0.8"/>
<circle cx="980.8" cy="315.7" r="1.5" fill="none" stroke="#c8c8c8" stroke-width="0.8"/>
<circle cx="988.0" cy="315.9" r="1.5" fill="none" stroke="#c8c8c8" stroke-width="0.8"/>
<circle cx="991.6" cy="316.1" r="1.5" fill="none" stroke="#c8c8c8" stroke-width="0.8"/>
<circle cx="998.9" cy="317.7" r="1.5" fill="none" stroke="#c8c8c8" stroke-width="0.8"/>
<circle cx="1009.8" cy="318.0" r="1.5" fill="none" stroke="#c8c8c8" stroke-width="0.8"/>
<circle cx="1017.1" cy="318.0" r="1.5" fill="none" stroke="#c8c8c8" stroke-width="0.8"/>
<circle cx="1020.7" cy="318.0" r="1.5" fill="none" stroke="#c8c8c8" stroke-width="0.8"/>
<circle cx="1024.3" cy="318.0" r="1.5" fill="none" stroke="#c8c8c8" stroke-width="0.8"/>
<path d="M731.5,156.5H733.0V157.5H734.4V158.5H735.9V159.6H737.3V160.6H738.8V161.6H740.2V162.6H741.7V163.6H743.1V164.6H744.6V165.7H746.0V167.0H747.5V169.1H748.9V171.7H750.4V174.4H751.8V176.8H753.3V178.9H754.7V180.9H756.2V182.8H757.6V184.8H759.1V186.7H760.5V188.8H762.0V191.0H763.4V193.2H764.9V195.4H766.3V197.7H767.8V199.9H769.3V202.1H770.7V204.3H772.2V206.5H773.6V208.7H775.1V210.9H776.5V213.0H778.0V215.2H779.4V217.3H780.9V219.5H782.3V221.7H783.8V223.8H785.2V226.0H786.7V228.1H788.1V230.2H789.6V232.2H791.0V234.0H792.5V235.9H793.9V237.7H795.4V239.4H796.8V241.0H798.3V242.5H799.7V243.9H801.2V245.3H802.6V246.6H804.1V247.9H805.6V249.2H807.0V250.5H808.5V251.9H809.9V253.3H811.4V254.7H812.8V256.2H814.3V257.7H815.7V259.1H817.2V260.5H818.6V261.9H820.1V263.2H821.5V264.5H823.0V265.6H824.4V266.7H825.9V267.6H827.3V268.5H828.8V269.3H830.2V270.0H831.7V270.7H833.1V271.4H834.6V272.1H836.0V272.8H837.5V273.5H838.9V274.3H840.4V275.1H841.9V275.8H843.3V276.6H844.8V277.3H846.2V278.1H847.7V278.9H849.1V279.7H850.6V280.5H852.0V281.4H853.5V282.3H854.9V283.2H856.4V284.1H857.8V285.0H859.3V285.9H860.7V286.7H862.2V287.5H863.6V288.2H865.1V288.8H866.5V289.3H868.0V289.7H869.4V290.0H870.9V290.4H872.3V290.7H873.8V291.0H875.2V291.3H876.7V291.6H878.2V292.0H879.6V292.4H881.1V292.7H882.5V293.1H884.0V293.4H885.4V293.8H886.9V294.1H888.3V294.5H889.8V294.8H891.2V295.1H892.7V295.3H894.1V295.5H895.6V295.8H897.0V296.0H898.5V296.2H899.9V296.4H901.4V296.6H902.8V296.8H904.3V297.0H905.7V297.3H907.2V297.5H908.6V297.8H910.1V298.0H911.5V298.3H913.0V298.5H914.5V298.8H915.9V299.1H917.4V299.4H918.8V299.6H920.3V299.9H921.7V300.1H923.2V300.4H924.6V300.6H926.1V300.8H927.5V301.0H929.0V301.2H930.4V301.4H931.9V301.6H933.3V301.8H934.8V302.0H936.2V302.2H937.7V302.3H939.1V302.5H940.6V302.6H942.0V302.7H943.5V302.8H944.9V302.9H946.4V302.9H947.8V302.9H949.3V302.9H950.8V303.0H952.2V303.0H953.7V303.0H955.1V303.0H956.6V303.1H958.0V303.1H959.5V303.1H960.9V303.1H962.4V303.1H963.8V303.1H965.3V303.1H966.7V303.2H968.2V303.2H969.6V303.2H971.1V303.2H972.5V303.2H974.0V303.2H975.4V303.2H976.9V303.2H978.3V303.3H979.8V303.3H981.2V303.3H982.7V303.3H984.1V303.3H985.6V303.3H987.1V303.3H988.5V303.3H990.0V303.3H991.4V303.3H992.9V303.4H994.3V303.4H995.8V303.4H997.2V303.4H998.7V303.4H1000.1V303.4H1001.6V303.4H1003.0V303.4H1004.5V303.4H1005.9V303.4H1007.4V303.4H1008.8V303.4H1010.3V303.4H1011.7V303.5H1013.2V303.5H1014.6V303.5H1016.1V303.5H1017.5V303.5H1019.0V303.5H1020.4V303.5H1021.9V303.5H1023.4V303.5H1024.8V303.5H1026.3V303.5H1027.7V303.5H1029.2V303.5H1030.6V303.5" fill="none" stroke="#3fbfd2" stroke-width="1.1"/>
<path d="M735.8,161.7L737.3,159.1L738.8,161.7Z" fill="none" stroke="#3fbfd2" stroke-width="0.7"/>
<path d="M746.9,171.9L748.4,169.3L749.9,171.9Z" fill="none" stroke="#3fbfd2" stroke-width="0.7"/>
<path d="M758.1,188.5L759.6,185.9L761.1,188.5Z" fill="none" stroke="#3fbfd2" stroke-width="0.7"/>
<path d="M769.2,205.4L770.7,202.8L772.2,205.4Z" fill="none" stroke="#3fbfd2" stroke-width="0.7"/>
<path d="M780.3,222.0L781.8,219.4L783.3,222.0Z" fill="none" stroke="#3fbfd2" stroke-width="0.7"/>
<path d="M791.5,237.6L793.0,235.0L794.5,237.6Z" fill="none" stroke="#3fbfd2" stroke-width="0.7"/>
<path d="M802.6,249.0L804.1,246.4L805.6,249.0Z" fill="none" stroke="#3fbfd2" stroke-width="0.7"/>
<path d="M813.7,259.7L815.2,257.1L816.7,259.7Z" fill="none" stroke="#3fbfd2" stroke-width="0.7"/>
<path d="M824.9,269.0L826.4,266.4L827.9,269.0Z" fill="none" stroke="#3fbfd2" stroke-width="0.7"/>
<path d="M836.0,274.6L837.5,272.0L839.0,274.6Z" fill="none" stroke="#3fbfd2" stroke-width="0.7"/>
<path d="M847.1,280.5L848.6,277.9L850.1,280.5Z" fill="none" stroke="#3fbfd2" stroke-width="0.7"/>
<path d="M858.3,287.3L859.8,284.7L861.3,287.3Z" fill="none" stroke="#3fbfd2" stroke-width="0.7"/>
<path d="M869.4,291.5L870.9,288.9L872.4,291.5Z" fill="none" stroke="#3fbfd2" stroke-width="0.7"/>
<path d="M880.5,294.1L882.0,291.5L883.5,294.1Z" fill="none" stroke="#3fbfd2" stroke-width="0.7"/>
<path d="M891.7,296.5L893.2,293.9L894.7,296.5Z" fill="none" stroke="#3fbfd2" stroke-width="0.7"/>
<path d="M902.8,298.1L904.3,295.5L905.8,298.1Z" fill="none" stroke="#3fbfd2" stroke-width="0.7"/>
<path d="M906.7,298.8L908.2,296.2L909.7,298.8Z" fill="none" stroke="#3fbfd2" stroke-width="0.7"/>
<path d="M908.1,299.0L909.6,296.4L911.1,299.0Z" fill="none" stroke="#3fbfd2" stroke-width="0.7"/>
<path d="M909.6,299.3L911.1,296.7L912.6,299.3Z" fill="none" stroke="#3fbfd2" stroke-width="0.7"/>
<path d="M911.0,299.6L912.5,297.0L914.0,299.6Z" fill="none" stroke="#3fbfd2" stroke-width="0.7"/>
<path d="M912.5,299.8L914.0,297.2L915.5,299.8Z" fill="none" stroke="#3fbfd2" stroke-width="0.7"/>
<path d="M913.9,300.1L915.4,297.5L916.9,300.1Z" fill="none" stroke="#3fbfd2" stroke-width="0.7"/>
<path d="M915.4,300.4L916.9,297.8L918.4,300.4Z" fill="none" stroke="#3fbfd2" stroke-width="0.7"/>
<path d="M916.8,300.6L918.3,298.0L919.8,300.6Z" fill="none" stroke="#3fbfd2" stroke-width="0.7"/>
<path d="M918.3,300.9L919.8,298.3L921.3,300.9Z" fill="none" stroke="#3fbfd2" stroke-width="0.7"/>
<path d="M919.7,301.2L921.2,298.6L922.7,301.2Z" fill="none" stroke="#3fbfd2" stroke-width="0.7"/>
<path d="M921.2,301.4L922.7,298.8L924.2,301.4Z" fill="none" stroke="#3fbfd2" stroke-width="0.7"/>
<path d="M922.6,301.6L924.1,299.0L925.6,301.6Z" fill="none" stroke="#3fbfd2" stroke-width="0.7"/>
<path d="M924.1,301.8L925.6,299.2L927.1,301.8Z" fill="none" stroke="#3fbfd2" stroke-width="0.7"/>
<path d="M925.5,302.0L927.0,299.4L928.5,302.0Z" fill="none" stroke="#3fbfd2" stroke-width="0.7"/>
<path d="M927.0,302.2L928.5,299.6L930.0,302.2Z" fill="none" stroke="#3fbfd2" stroke-width="0.7"/>
<path d="M928.4,302.4L929.9,299.8L931.4,302.4Z" fill="none" stroke="#3fbfd2" stroke-width="0.7"/>
<path d="M929.9,302.6L931.4,300.0L932.9,302.6Z" fill="none" stroke="#3fbfd2" stroke-width="0.7"/>
<path d="M931.3,302.8L932.8,300.2L934.3,302.8Z" fill="none" stroke="#3fbfd2" stroke-width="0.7"/>
<path d="M932.8,303.0L934.3,300.4L935.8,303.0Z" fill="none" stroke="#3fbfd2" stroke-width="0.7"/>
<path d="M934.2,303.2L935.7,300.6L937.2,303.2Z" fill="none" stroke="#3fbfd2" stroke-width="0.7"/>
<path d="M935.7,303.4L937.2,300.8L938.7,303.4Z" fill="none" stroke="#3fbfd2" stroke-width="0.7"/>
<path d="M937.2,303.5L938.7,300.9L940.2,303.5Z" fill="none" stroke="#3fbfd2" stroke-width="0.7"/>
<path d="M938.6,303.7L940.1,301.1L941.6,303.7Z" fill="none" stroke="#3fbfd2" stroke-width="0.7"/>
<path d="M940.1,303.8L941.6,301.2L943.1,303.8Z" fill="none" stroke="#3fbfd2" stroke-width="0.7"/>
<path d="M941.5,303.9L943.0,301.3L944.5,303.9Z" fill="none" stroke="#3fbfd2" stroke-width="0.7"/>
<path d="M943.0,303.9L944.5,301.3L946.0,303.9Z" fill="none" stroke="#3fbfd2" stroke-width="0.7"/>
<path d="M950.2,304.1L951.7,301.5L953.2,304.1Z" fill="none" stroke="#3fbfd2" stroke-width="0.7"/>
<path d="M952.6,304.1L954.1,301.5L955.6,304.1Z" fill="none" stroke="#3fbfd2" stroke-width="0.7"/>
<path d="M957.5,304.2L959.0,301.6L960.5,304.2Z" fill="none" stroke="#3fbfd2" stroke-width="0.7"/>
<path d="M959.9,304.2L961.4,301.6L962.9,304.2Z" fill="none" stroke="#3fbfd2" stroke-width="0.7"/>
<path d="M962.3,304.2L963.8,301.6L965.3,304.2Z" fill="none" stroke="#3fbfd2" stroke-width="0.7"/>
<path d="M964.7,304.2L966.2,301.6L967.7,304.2Z" fill="none" stroke="#3fbfd2" stroke-width="0.7"/>
<path d="M967.2,304.3L968.7,301.7L970.2,304.3Z" fill="none" stroke="#3fbfd2" stroke-width="0.7"/>
<path d="M969.6,304.3L971.1,301.7L972.6,304.3Z" fill="none" stroke="#3fbfd2" stroke-width="0.7"/>
<path d="M972.0,304.3L973.5,301.7L975.0,304.3Z" fill="none" stroke="#3fbfd2" stroke-width="0.7"/>
<path d="M974.4,304.3L975.9,301.7L977.4,304.3Z" fill="none" stroke="#3fbfd2" stroke-width="0.7"/>
<path d="M976.8,304.4L978.3,301.8L979.8,304.4Z" fill="none" stroke="#3fbfd2" stroke-width="0.7"/>
<path d="M981.7,304.4L983.2,301.8L984.7,304.4Z" fill="none" stroke="#3fbfd2" stroke-width="0.7"/>
<path d="M986.5,304.4L988.0,301.8L989.5,304.4Z" fill="none" stroke="#3fbfd2" stroke-width="0.7"/>
<path d="M991.4,304.5L992.9,301.9L994.4,304.5Z" fill="none" stroke="#3fbfd2" stroke-width="0.7"/>
<path d="M996.2,304.5L997.7,301.9L999.2,304.5Z" fill="none" stroke="#3fbfd2" stroke-width="0.7"/>
<path d="M998.6,304.5L1000.1,301.9L1001.6,304.5Z" fill="none" stroke="#3fbfd2" stroke-width="0.7"/>
<path d="M1001.0,304.5L1002.5,301.9L1004.0,304.5Z" fill="none" stroke="#3fbfd2" stroke-width="0.7"/>
<path d="M1003.5,304.5L1005.0,301.9L1006.5,304.5Z" fill="none" stroke="#3fbfd2" stroke-width="0.7"/>
<path d="M1005.9,304.5L1007.4,301.9L1008.9,304.5Z" fill="none" stroke="#3fbfd2" stroke-width="0.7"/>
<path d="M1008.3,304.5L1009.8,301.9L1011.3,304.5Z" fill="none" stroke="#3fbfd2" stroke-width="0.7"/>
<path d="M1010.7,304.6L1012.2,302.0L1013.7,304.6Z" fill="none" stroke="#3fbfd2" stroke-width="0.7"/>
<path d="M1015.6,304.6L1017.1,302.0L1018.6,304.6Z" fill="none" stroke="#3fbfd2" stroke-width="0.7"/>
<path d="M1018.0,304.6L1019.5,302.0L1021.0,304.6Z" fill="none" stroke="#3fbfd2" stroke-width="0.7"/>
<path d="M1025.2,304.6L1026.7,302.0L1028.2,304.6Z" fill="none" stroke="#3fbfd2" stroke-width="0.7"/>
<path d="M1027.7,304.6L1029.2,302.0L1030.7,304.6Z" fill="none" stroke="#3fbfd2" stroke-width="0.7"/>
<text x="792" y="232" class="pl" fill="#3fbfd2">55%</text>
<text x="792" y="280" class="pl" fill="#c8c8c8">48%</text>
<text x="848" y="277" class="pl" fill="#3fbfd2">28%</text>
<text x="849" y="312" class="pl" fill="#c8c8c8">19%</text>
<text x="905" y="293" class="pl" fill="#3fbfd2">17%</text>
<text x="909" y="324" class="pl" fill="#c8c8c8">10%</text>
<text x="731.5" y="368.1" text-anchor="middle" class="rc">789</text>
<text x="731.5" y="377.3" text-anchor="middle" class="rg">792</text>
<text x="746.0" y="368.1" text-anchor="middle" class="rc">733</text>
<text x="746.0" y="377.3" text-anchor="middle" class="rg">701</text>
<text x="760.5" y="368.1" text-anchor="middle" class="rc">625</text>
<text x="760.5" y="377.3" text-anchor="middle" class="rg">591</text>
<text x="775.1" y="368.1" text-anchor="middle" class="rc">509</text>
<text x="775.1" y="377.3" text-anchor="middle" class="rg">475</text>
<text x="789.6" y="368.1" text-anchor="middle" class="rc">422</text>
<text x="789.6" y="377.3" text-anchor="middle" class="rg">364</text>
<text x="804.1" y="368.1" text-anchor="middle" class="rc">349</text>
<text x="804.1" y="377.3" text-anchor="middle" class="rg">273</text>
<text x="818.6" y="368.1" text-anchor="middle" class="rc">287</text>
<text x="818.6" y="377.3" text-anchor="middle" class="rg">215</text>
<text x="833.1" y="368.1" text-anchor="middle" class="rc">246</text>
<text x="833.1" y="377.3" text-anchor="middle" class="rg">170</text>
<text x="847.7" y="368.1" text-anchor="middle" class="rc">212</text>
<text x="847.7" y="377.3" text-anchor="middle" class="rg">144</text>
<text x="862.2" y="368.1" text-anchor="middle" class="rc">175</text>
<text x="862.2" y="377.3" text-anchor="middle" class="rg">118</text>
<text x="876.7" y="368.1" text-anchor="middle" class="rc">154</text>
<text x="876.7" y="377.3" text-anchor="middle" class="rg">98</text>
<text x="891.2" y="368.1" text-anchor="middle" class="rc">143</text>
<text x="891.2" y="377.3" text-anchor="middle" class="rg">87</text>
<text x="905.7" y="368.1" text-anchor="middle" class="rc">129</text>
<text x="905.7" y="377.3" text-anchor="middle" class="rg">75</text>
<text x="920.3" y="368.1" text-anchor="middle" class="rc">106</text>
<text x="920.3" y="377.3" text-anchor="middle" class="rg">57</text>
<text x="934.8" y="368.1" text-anchor="middle" class="rc">87</text>
<text x="934.8" y="377.3" text-anchor="middle" class="rg">45</text>
<text x="949.3" y="368.1" text-anchor="middle" class="rc">67</text>
<text x="949.3" y="377.3" text-anchor="middle" class="rg">27</text>
<text x="963.8" y="368.1" text-anchor="middle" class="rc">48</text>
<text x="963.8" y="377.3" text-anchor="middle" class="rg">21</text>
<text x="978.3" y="368.1" text-anchor="middle" class="rc">30</text>
<text x="978.3" y="377.3" text-anchor="middle" class="rg">17</text>
<text x="992.9" y="368.1" text-anchor="middle" class="rc">23</text>
<text x="992.9" y="377.3" text-anchor="middle" class="rg">9</text>
<text x="1007.4" y="368.1" text-anchor="middle" class="rc">9</text>
<text x="1007.4" y="377.3" text-anchor="middle" class="rg">3</text>
<text x="1021.9" y="368.1" text-anchor="middle" class="rc">2</text>
<text x="1021.9" y="377.3" text-anchor="middle" class="rg">1</text>
<text x="1036.4" y="368.1" text-anchor="middle" class="rc">0</text>
<text x="1036.4" y="377.3" text-anchor="middle" class="rg">0</text>
</svg>

<div class="a" style="left:333.5px;top:415px;color:#888;font-size:9px;line-height:15.5px">•</div>
<div class="a" style="left:348px;top:415.5px;width:740px;color:#666;font-size:12.4px;line-height:15.5px;letter-spacing:0.25px">Clinically meaningful improvement in OS with NIVO + chemo vs chemo was maintained with longer follow-up in PD-L1<br>CPS ≥ 5 and all randomized populations</div>
<div class="a" style="left:329px;top:467.5px;color:#7a7a7a;font-size:6.5px;line-height:7px;letter-spacing:0.45px;white-space:nowrap"><span style="font-size:4px;vertical-align:top">a</span>Minimum follow-up, 36.2 months.</div>
<div class="a" style="left:1056px;top:469px;color:#999;font-size:6.5px;line-height:7px">6</div>

<!-- bottom banner -->
<div class="a" style="left:0;top:531px;width:1080px;height:77px;background:linear-gradient(90deg,#ebebed 0%,#ededef 20%,#f3f5f7 30%,#e6f1f6 36%,#d2e8f1 42%,#c4e2ef 52%,#bbdeed 65%,#b4daeb 78%,#b8dced 100%)"></div>
<div class="a" style="left:0;top:607px;width:1080px;height:1px;background:#bcbcbc"></div>

<!-- photo region -->
<svg class="a" style="left:800px;top:531px" width="280" height="76" viewBox="0 0 280 76">
  <defs>
    <linearGradient id="seaP" x1="0" y1="0" x2="1" y2="0">
      <stop offset="0" stop-color="#b6dbec" stop-opacity="0"/><stop offset="0.12" stop-color="#b0dbec" stop-opacity="1"/><stop offset="0.4" stop-color="#a5d5e7"/><stop offset="1" stop-color="#a0d2e4"/>
    </linearGradient>
  </defs>
  <rect width="280" height="76" fill="url(#seaP)"/>
  <!-- land -->
  <path d="M107,0 L280,0 L280,76 L86,76 C76,70 62,64 48,60 C38,58 28,56 22,50 C20,44 26,38 34,32 C44,26 56,22 68,21 C80,20 92,18 96,12 C100,6 104,2 107,0Z" fill="#e3e4e4"/>
  <!-- vegetation right -->
  <path d="M190,0 L280,0 L280,62 C268,64 256,60 248,54 C236,46 224,40 214,30 C204,20 196,10 190,0Z" fill="#d3d1bb"/>
  <ellipse cx="228" cy="18" rx="22" ry="12" fill="#aeb694" opacity="0.75"/>
  <ellipse cx="262" cy="34" rx="14" ry="9" fill="#a5ae8a" opacity="0.8"/>
  <ellipse cx="270" cy="56" rx="10" ry="8" fill="#b0b694" opacity="0.8"/>
  <ellipse cx="246" cy="50" rx="9" ry="6" fill="#aab290" opacity="0.8"/>
  <!-- trees -->
  <ellipse cx="35" cy="46" rx="12" ry="9" fill="#94ac93" opacity="0.8"/>
  <ellipse cx="50" cy="29" rx="7" ry="5" fill="#a2b79e"/>
  <ellipse cx="74" cy="28" rx="11" ry="7" fill="#a6ba9f"/>
  <ellipse cx="94" cy="58" rx="10" ry="8" fill="#a4b89c"/>
  <ellipse cx="130" cy="72" rx="7" ry="4" fill="#a0b596"/>
  <ellipse cx="170" cy="44" rx="10" ry="7" fill="#b0bea2"/>
  <path d="M123,44 C120,54 121,64 124,70 C127,64 128,54 126,44Z" fill="#7b9683"/>
  <path d="M155,14 C152,24 153,32 156,36 C159,32 160,24 157,14Z" fill="#778f80"/>
  <!-- buildings -->
  <rect x="27" y="24" width="14" height="12" fill="#f3f3f4"/>
  <rect x="64" y="40" width="22" height="16" fill="#f3f4f6"/>
  <rect x="58" y="38" width="14" height="8" fill="#e8b4b4" opacity="0.7"/>
  <rect x="100" y="10" width="24" height="10" fill="#efefef"/>
  <rect x="124" y="2" width="16" height="12" fill="#e2c9ad"/>
  <rect x="133" y="26" width="12" height="10" fill="#e3aeb0" opacity="0.8"/>
  <rect x="100" y="32" width="20" height="18" fill="#f5f5f6"/>
  <rect x="146" y="54" width="26" height="16" fill="#f5f5f6"/>
  <rect x="150" y="62" width="18" height="3" fill="#9aaec8"/>
  <rect x="180" y="42" width="24" height="14" fill="#f4f4f5"/>
  <rect x="184" y="48" width="16" height="3" fill="#8ea4c4"/>
  <rect x="172" y="10" width="22" height="14" fill="#f1f1f3"/>
  <rect x="176" y="16" width="12" height="3" fill="#8ea4c4"/>
  <rect x="204" y="38" width="20" height="12" fill="#eff0f3"/>
  <rect x="207" y="43" width="13" height="3" fill="#8ea4c4"/>
  <rect x="268" y="4" width="12" height="10" fill="#eef0f4"/>
  <rect x="262" y="52" width="18" height="24" fill="#eadbd2"/>
  <rect x="205" y="62" width="30" height="14" fill="#e6e0dc"/>
  <path d="M145,0 L152,0 L140,40 L134,40Z" fill="#f6f6f6"/>
  <rect x="24" y="66" width="7" height="3" fill="#f4f4f4"/>
  <rect x="42" y="68" width="7" height="3" fill="#f4f4f4"/>
</svg>

<!-- banner texts -->
<div class="a" style="left:14.5px;top:530px;color:#8e8e92;font-family:'NanumGothic',sans-serif;font-size:63px;line-height:76px;font-weight:bold;letter-spacing:-15.5px">11</div>
<div class="a" style="left:66px;top:539.5px;color:#8e8e92;font-size:10.5px;line-height:12px">os</div>
<div class="a" style="left:30px;top:591.5px;color:#8e8e92;font-size:10.4px;line-height:12px">χρόνος</div>
<div class="a" style="left:83px;top:538px;width:188px;height:18px;background:#ecbd72"></div>
<div class="a" style="left:85px;top:538px;color:#fff;font-size:16.8px;line-height:19px;font-weight:bold;letter-spacing:0.72px;white-space:nowrap">Πανελλήνιο Συνέδριο</div>
<div class="a bt" style="left:85.5px;top:558px;font-size:20px;letter-spacing:0.08px">Τα νέα φάρμακα</div>
<div class="a bs" style="left:244px;top:566px">στην</div>
<div class="a bt" style="left:273.5px;top:558px;font-size:20px;letter-spacing:-0.17px">Ογκολογία</div>
<div class="a bs" style="left:87.5px;top:587px;font-size:12px">από την</div>
<div class="a bt" style="left:133px;top:579px;font-size:20px;letter-spacing:0.1px">έρευνα</div>
<div class="a bs" style="left:204.5px;top:587px">στην</div>
<div class="a bt" style="left:231.5px;top:579px;font-size:20px;letter-spacing:0px">πράξη</div>

<div class="a" style="left:410.5px;top:550px;color:#fff;font-size:30.5px;line-height:36px;font-weight:bold;letter-spacing:5.6px;white-space:nowrap">4-6</div>
<div class="a" style="left:410.5px;top:579.2px;color:#fff;font-size:16.5px;line-height:19px;font-weight:bold;letter-spacing:1.9px;white-space:nowrap">Μαΐου</div>
<div class="a" style="left:453.7px;top:569.25px;width:40px;height:14px;color:#fff;font-size:12.8px;line-height:14px;font-weight:bold;letter-spacing:2.2px;text-indent:2.2px;transform:rotate(-90deg);text-align:center;white-space:nowrap">2023</div>

<div class="a" style="left:487.4px;top:556px;width:90px;height:52px;background:#edbd72"></div>
<div class="a" style="left:490.5px;top:556.5px;color:#fff;font-size:8.3px;line-height:10px;letter-spacing:3.05px;white-space:nowrap">ΞΕΝΟΔΟΧΕΙΟ</div>
<div class="a" style="left:490.3px;top:564.5px;color:#fff;font-size:15.5px;line-height:18px;font-weight:bold;letter-spacing:-1.1px;white-space:nowrap">Hinitsa Bay</div>
<div class="a" style="left:490.5px;top:583px;color:#fff;font-size:11px;line-height:13px;font-weight:bold;letter-spacing:0.5px;white-space:nowrap">ΧΗΝΙΤΣΑ</div>

<div class="a" style="left:579px;top:531px;width:33px;height:20px;background:#ecbc72"></div>
<div class="a" style="left:580.3px;top:542.5px;color:#fff;font-size:6px;line-height:7px;font-weight:bold;letter-spacing:-0.3px;white-space:nowrap">ΟΡΓΑΝΩΣΗ:</div>
<div class="a" style="left:688px;top:531px;width:53px;height:20px;background:#ecbc72"></div>
<div class="a" style="left:688.6px;top:542.5px;color:#fff;font-size:6px;line-height:7px;font-weight:bold;letter-spacing:0px;white-space:nowrap">ΣΥΝΕΡΓΑΣΙΑ ΜΕ:</div>
<svg class="a" style="left:619px;top:546px" width="16" height="16">
  <rect x="0" y="3" width="3" height="12" fill="#e89f7a"/><rect x="4" y="1" width="3" height="14" fill="#eccb78"/>
  <rect x="8" y="0" width="3" height="15" fill="#d6d38a"/><rect x="12" y="3" width="3" height="12" fill="#c9a98f"/>
</svg>
<div class="a" style="left:636px;top:546px;color:#8a8fa0;font-size:4.3px;line-height:5px">ΕΤΑΙΡΕΙΑ ΜΕΛΕΤΗΣ<br>ΝΕΩΝ ΦΑΡΜΑΚΩΝ<br>ΣΤΗΝ ΟΓΚΟΛΟΓΙΑ</div>
<div class="a" style="left:743px;top:545px;color:#7a8090;font-size:5.4px;line-height:6px;white-space:nowrap">Β' Παθολογική Ογκολογική Κλινική<br>Γ.Α.Ο.Ν.Α. «Ο Άγιος Σάββας»</div>
</body></html>
